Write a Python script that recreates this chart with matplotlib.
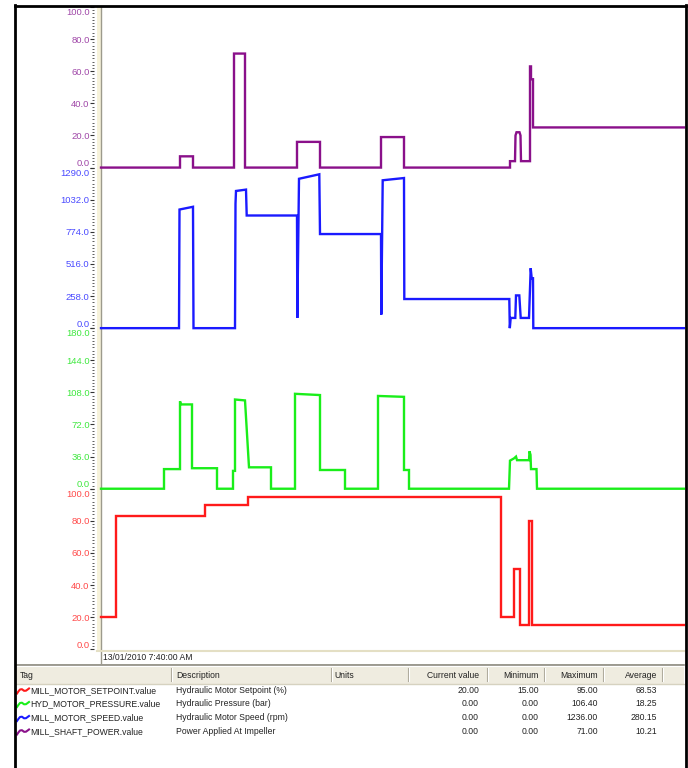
import matplotlib
matplotlib.use("Agg")
import matplotlib.pyplot as plt
from matplotlib.ticker import FixedLocator, AutoMinorLocator, FormatStrFormatter
from matplotlib.transforms import ScaledTranslation
from matplotlib.lines import Line2D
from matplotlib.patches import Rectangle

W, H, DPI = 688, 768, 100
plt.rcParams['font.family'] = ['Liberation Sans', 'DejaVu Sans']

# ---- trend data: time in minutes after 13/01/2010 7:40:00 AM ----
T_END = 58.3

power_t = [0, 7.9, 7.9, 9.2, 9.2, 13.3, 13.3, 14.4, 14.4, 19.6, 19.6, 21.9, 21.9, 28.0, 28.0,
           30.3, 30.3, 40.9, 40.9, 41.4, 41.45, 41.55, 41.85, 41.95, 42.0, 42.9, 42.9, 43.0,
           43.0, 43.2, 43.2, T_END]
power_v = [0, 0, 7, 7, 0, 0, 71, 71, 0, 0, 16, 16, 0, 0, 19,
           19, 0, 0, 4, 4, 20, 22, 22, 20, 4, 4, 63, 63,
           55, 55, 25, 25]

speed_t = [0, 7.8, 7.85, 9.2, 9.25, 13.4, 13.45, 13.5, 14.5, 14.57, 19.6, 19.63, 19.8, 21.83,
           21.9, 28.0, 28.03, 28.17, 30.3, 30.33, 40.83, 40.88, 40.97, 41.43, 41.5, 41.83,
           41.97, 42.8, 42.97, 43.07, 43.2, 43.23, T_END]
speed_v = [0, 0, 953, 975, 0, 0, 1000, 1102, 1113, 905, 905, 82, 1200, 1236,
           756, 756, 109, 1188, 1206, 234, 234, 0, 82, 82, 263, 263,
           82, 82, 482, 401, 401, 0, 0]

pressure_t = [0, 6.3, 6.3, 7.9, 7.9, 8.0, 9.1, 9.1, 11.6, 11.6, 13.2, 13.2, 13.4, 13.4, 14.4,
              14.8, 17.0, 17.0, 19.4, 19.4, 21.9, 21.9, 24.4, 24.4, 27.7, 27.7, 30.3, 30.3,
              30.8, 30.8, 40.8, 40.9, 41.3, 41.5, 41.6, 42.8, 42.85, 42.95, 43.0, 43.55,
              43.6, T_END]
pressure_v = [0, 0, 22, 22, 98, 94.5, 94.5, 23, 23, 0, 0, 20, 20, 100, 99,
              24, 24, 0, 0, 106.4, 105, 21, 21, 0, 0, 104, 103, 21,
              21, 0, 0, 31.5, 34, 36, 32, 32, 42, 38, 22, 22,
              0, 0]

setpoint_t = [0, 1.5, 1.5, 10.4, 10.4, 14.7, 14.7, 40.0, 40.0, 41.3, 41.3, 41.9, 41.9,
              42.8, 42.8, 43.1, 43.1, T_END]
setpoint_v = [20, 20, 83, 83, 90, 90, 95, 95, 20, 20, 50, 50, 15,
              15, 80, 80, 15, 15]

power_ticks = [0, 20, 40, 60, 80, 100]
speed_ticks = [0, 258, 516, 774, 1032, 1290]
pressure_ticks = [0, 36, 72, 108, 144, 180]
setpoint_ticks = [0, 20, 40, 60, 80, 100]

# ---- summary table ----
tags = ["MILL_MOTOR_SETPOINT.value", "HYD_MOTOR_PRESSURE.value",
        "MILL_MOTOR_SPEED.value", "MILL_SHAFT_POWER.value"]
descriptions = ["Hydraulic Motor Setpoint (%)", "Hydraulic Pressure (bar)",
                "Hydraulic Motor Speed (rpm)", "Power Applied At Impeller"]
current_vals = [20.00, 0.00, 0.00, 0.00]
minimum_vals = [15.00, 0.00, 0.00, 0.00]
maximum_vals = [95.00, 106.40, 1236.00, 71.00]
average_vals = [68.53, 18.25, 280.15, 10.21]
headers = ["Tag", "Description", "Units", "Current value", "Minimum", "Maximum", "Average"]
timestamp = "13/01/2010 7:40:00 AM"

line_colors = ["#ff1a1a", "#1aee1a", "#1a1aff", "#8a108a"]
label_colors = ["#ff4a4a", "#3ee83e", "#4a4aff", "#a048a8"]

fig = plt.figure(figsize=(W / DPI, H / DPI), dpi=DPI)
fig.patch.set_facecolor("white")


def fx(x):
    return x / W


def fy(y):
    return 1 - y / H


PLOT_L, PLOT_R = 101, 684
TOP, BOTTOM = 7, 649.3
band = (BOTTOM - TOP) / 4

# bands from top to bottom: power, speed, pressure, setpoint
series = [
    (power_t, power_v, power_ticks, line_colors[3], label_colors[3]),
    (speed_t, speed_v, speed_ticks, line_colors[2], label_colors[2]),
    (pressure_t, pressure_v, pressure_ticks, line_colors[1], label_colors[1]),
    (setpoint_t, setpoint_v, setpoint_ticks, line_colors[0], label_colors[0]),
]

for i, (t, v, ticks, lc, tc) in enumerate(series):
    ytop = TOP + i * band
    ybot = ytop + band
    ax = fig.add_axes([fx(PLOT_L), fy(ybot), fx(PLOT_R) - fx(PLOT_L), band / H])
    ax.patch.set_alpha(0)
    ax.set_xlim(0, T_END)
    ax.set_ylim(ticks[0], ticks[-1])
    ax.plot(t, v, color=lc, lw=1.7, clip_on=False, solid_joinstyle="miter")
    for s in ax.spines.values():
        s.set_visible(False)
    ax.spines["left"].set_position(("outward", 5))
    ax.set_xticks([])
    ax.yaxis.set_major_locator(FixedLocator(ticks))
    ax.yaxis.set_major_formatter(FormatStrFormatter("%.1f"))
    ax.yaxis.set_minor_locator(AutoMinorLocator(10))
    ax.tick_params(axis="y", which="major", length=2.6, width=0.8, color="#333333",
                   labelsize=6.8, labelcolor=tc, pad=0.6)
    ax.tick_params(axis="y", which="minor", length=1.6, width=0.6, color="#444444")
    mticks = ax.yaxis.get_major_ticks()
    lo = mticks[0].label1
    lo.set_transform(lo.get_transform() + ScaledTranslation(0, 5.0 / DPI, fig.dpi_scale_trans))
    hi = mticks[-1].label1
    hi.set_transform(hi.get_transform() + ScaledTranslation(0, -4.5 / DPI, fig.dpi_scale_trans))

ftr = fig.transFigure

# axis strip on the left of the plotting area
fig.add_artist(Rectangle((fx(97), fy(650)), fx(101) - fx(97), (650 - TOP) / H,
                         transform=ftr, facecolor="#f6f2da", edgecolor="none", zorder=-2))
fig.add_artist(Line2D([fx(100.5), fx(100.5)], [fy(TOP), fy(664)], transform=ftr,
                      color="#9c9a8c", lw=1.0, zorder=-1))
# bottom edge of plot and timestamp bar
fig.add_artist(Line2D([fx(97), fx(PLOT_R)], [fy(650.5), fy(650.5)], transform=ftr,
                      color="#e4dfc4", lw=1.5, zorder=-1))
fig.text(fx(103), fy(657.5), timestamp, fontsize=6.2, color="#222222", va="center", ha="left")

# table header
fig.add_artist(Rectangle((fx(16), fy(684)), fx(PLOT_R) - fx(16), 20 / H, transform=ftr,
                         facecolor="#efece0", edgecolor="none"))
fig.add_artist(Line2D([fx(16), fx(PLOT_R)], [fy(664.5), fy(664.5)], transform=ftr,
                      color="#8c8a80", lw=1.2))
fig.add_artist(Line2D([fx(16), fx(PLOT_R)], [fy(666), fy(666)], transform=ftr,
                      color="#ffffff", lw=0.8))
fig.add_artist(Line2D([fx(16), fx(PLOT_R)], [fy(683.5), fy(683.5)], transform=ftr,
                      color="#d6d2c0", lw=1.0))
for xs in [171, 331, 408, 487, 544, 603, 662]:
    fig.add_artist(Line2D([fx(xs), fx(xs)], [fy(668), fy(681)], transform=ftr,
                          color="#aca899", lw=0.8))
    fig.add_artist(Line2D([fx(xs + 1), fx(xs + 1)], [fy(668), fy(681)], transform=ftr,
                          color="#ffffff", lw=0.8))

head_y = 676
fig.text(fx(20), fy(head_y), headers[0], fontsize=6.2, color="#222222", va="center")
fig.text(fx(176), fy(head_y), headers[1], fontsize=6.2, color="#222222", va="center")
fig.text(fx(334), fy(head_y), headers[2], fontsize=6.2, color="#222222", va="center")
num_right = [479, 539, 598, 657]
for h, xr in zip(headers[3:], num_right):
    fig.text(fx(xr), fy(head_y), h, fontsize=6.2, color="#222222", va="center", ha="right")

row_y = [690.5, 704, 718, 731.5]
for k in range(4):
    y = row_y[k]
    # small coloured trend glyph in front of each tag
    gx = [17, 18.5, 20, 22, 24, 26, 29]
    gy = [y + 3, y + 0.8, y - 1, y - 1.3, y + 0.3, y + 0.2, y - 2]
    fig.add_artist(Line2D([fx(a) for a in gx], [fy(b) for b in gy], transform=ftr,
                          color=line_colors[k], lw=1.5))
    fig.text(fx(30), fy(y), tags[k], fontsize=6.2, color="#222222", va="center")
    fig.text(fx(176), fy(y), descriptions[k], fontsize=6.2, color="#222222", va="center")
    for vals, xr in zip([current_vals, minimum_vals, maximum_vals, average_vals], num_right):
        fig.text(fx(xr), fy(y), f"{vals[k]:.2f}", fontsize=6.2, color="#222222",
                 va="center", ha="right")

# outer window frame
for xs, ys in [([15, 15], [5, 768]), ([15, 686], [6, 6]), ([686, 686], [5, 768])]:
    fig.add_artist(Line2D([fx(a) for a in xs], [fy(b) for b in ys], transform=ftr,
                          color="black", lw=2.0, zorder=5))

fig.savefig("out.png", dpi=DPI)
